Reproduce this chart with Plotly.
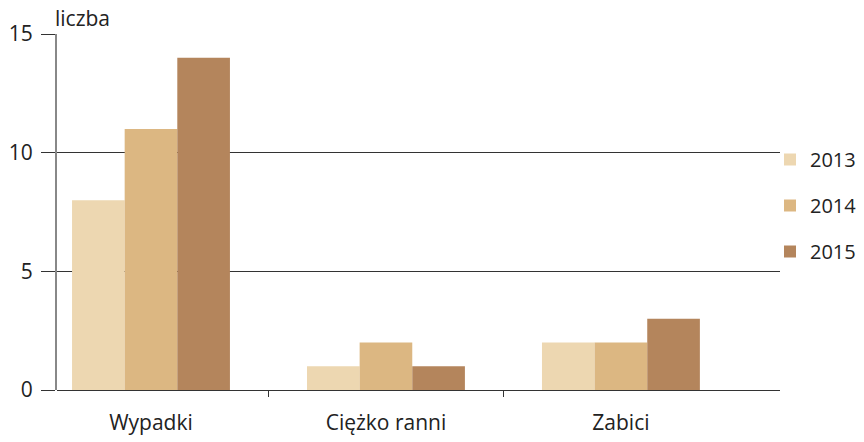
import plotly.graph_objects as go

categories = ["Wypadki", "Ciężko ranni", "Zabici"]
years = ["2013", "2014", "2015"]
values_2013 = [8, 1, 2]
values_2014 = [11, 2, 2]
values_2015 = [14, 1, 3]
series = [values_2013, values_2014, values_2015]
colors = ["#EDD7B1", "#DCB782", "#B4855C"]
y_ticks = [0, 5, 10, 15]

FONT = "Open Sans, Lato, sans-serif"
FS = 21
x_pos = list(range(len(categories)))

W, H = 864, 442
L, T, R, B = 57, 34, 84, 52
PW = W - L - R
PH = H - T - B

fig = go.Figure()
for i, (yr, vals) in enumerate(zip(years, series)):
    fig.add_trace(go.Bar(
        x=x_pos, y=vals, name=yr, marker_color=colors[i],
        marker_line_width=0, legendgroup=yr,
    ))

fig.update_layout(
    width=W, height=H,
    margin=dict(l=L, r=R, t=T, b=B, autoexpand=False),
    plot_bgcolor="white", paper_bgcolor="white",
    barmode="group", bargap=0.328, bargroupgap=0,
    font=dict(family=FONT, size=FS, color="#222222"),
    legend=dict(x=1 - 10 / PW, y=(390 - 140) / PH, xanchor="left", yanchor="top",
                font=dict(size=FS - 1), tracegroupgap=17,
                itemwidth=30, bgcolor="rgba(0,0,0,0)"),
    xaxis=dict(
        range=[-0.4, 2.677],
        tickmode="array", tickvals=x_pos, ticktext=categories,
        ticks="", showgrid=False, zeroline=False,
        showline=False, ticklabelstandoff=18,
        minor=dict(tickmode="array", tickvals=[0.5, 1.5], ticks="outside",
                   ticklen=6, tickcolor="#333333", tickwidth=1, showgrid=False),
        tickfont=dict(size=FS),
    ),
    yaxis=dict(
        range=[0, 15], tickvals=y_ticks, ticks="outside", ticklen=14,
        tickcolor="#333333", tickwidth=1, ticklabelstandoff=4,
        showgrid=True, gridcolor="#333333", gridwidth=1,
        zeroline=True, zerolinecolor="#333333", zerolinewidth=1,
        showline=True, linecolor="#888888", linewidth=2,
        tickfont=dict(size=FS),
    ),
    annotations=[dict(text="liczba", xref="paper", yref="paper",
                      x=-4 / PW, y=(390 - 18) / PH, xanchor="left", yanchor="middle",
                      showarrow=False, font=dict(size=FS))],
)

fig.write_html("out.html", config={"displayModeBar": False},
               post_script="document.body.style.margin='0';")
